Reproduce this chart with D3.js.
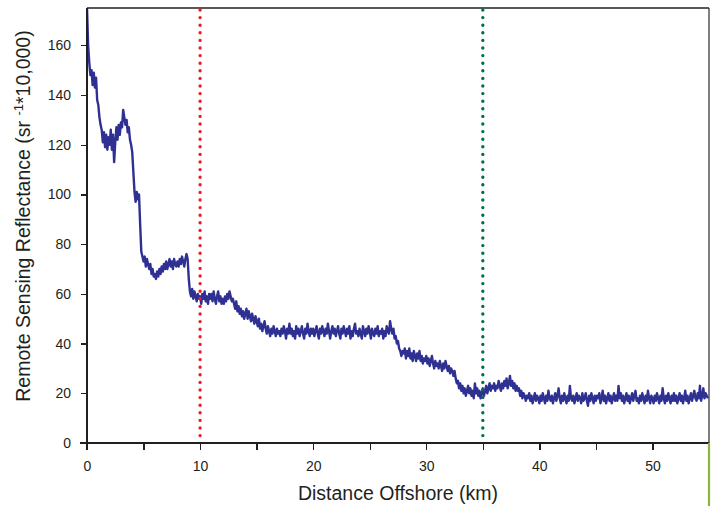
<!DOCTYPE html>
<html>
<head>
  <title>Remote Sensing Reflectance vs Distance Offshore</title>
  <script src="https://d3js.org/d3.v7.min.js"></script>
  <style>
    body { margin: 0; background: #fff; font-family: "Liberation Sans", Arial, sans-serif; }
    .axis path, .axis line { fill: none; stroke: #231f20; stroke-width: 1.3; shape-rendering: crispEdges; }
    .axis text { font-size: 14px; fill: #231f20; font-family: "Liberation Sans", Arial, sans-serif; }
    .axis-title { font-size: 19.5px; fill: #231f20; }
  </style>
</head>
<body>
  <div id="chart"></div>
  <script>
    // distance step of the reflectance samples (km)
    const distStep = 0.1;
    // Rrs (sr^-1 * 10,000), one value every 0.1 km starting at 0 km (one row = 1 km)
    const reflectance = [
      175, 160, 153, 148, 150, 144, 149, 143, 147, 138,
      136, 131, 128, 126, 121, 125, 119, 124, 118, 123,
      120, 126, 118, 124, 113, 121, 127, 122, 128, 124,
      129, 127, 134, 131, 128, 130, 125, 127, 122, 120,
      117, 109, 101, 97, 101, 98, 100, 88, 77, 75,
      73, 75, 71, 74, 72, 70, 72, 68, 70, 67,
      68, 66, 69, 67, 70, 68, 71, 69, 72, 70,
      73, 70, 72, 74, 71, 73, 70, 74, 72, 71,
      73, 71, 74, 72, 75, 73, 71, 74, 76, 74,
      66, 61, 59, 62, 58, 61, 59, 57, 60, 58,
      59, 56, 60, 58, 61, 57, 59, 56, 60, 58,
      60, 57, 61, 58, 56, 59, 61, 57, 59, 56,
      58, 56, 59, 57, 60, 58, 61, 59, 57, 58,
      56, 54, 57, 53, 55, 52, 54, 51, 53, 50,
      52, 54, 50, 53, 51, 49, 52, 50, 48, 51,
      49, 47, 50, 46, 48, 45, 47, 49, 46, 44,
      47, 45, 43, 46, 44, 47, 45, 43, 46, 44,
      45, 43, 46, 44, 47, 45, 42, 46, 44, 48,
      44, 46, 43, 45, 42, 47, 44, 46, 43, 45,
      47, 44, 42, 46, 44, 48, 45, 43, 46, 44,
      46, 43, 45, 47, 44, 42, 46, 44, 47, 45,
      43, 46, 44, 48, 45, 42, 45, 47, 44, 46,
      43, 45, 47, 44, 42, 46, 44, 47, 45, 43,
      46, 44, 47, 42, 45, 43, 46, 48, 44, 45,
      43, 46, 44, 42, 47, 45, 43, 46, 44, 47,
      45, 42, 46, 44, 43, 46, 44, 47, 43, 45,
      44, 46, 42, 45, 43, 47, 45, 44, 49, 46,
      44, 46, 42, 43, 40, 41, 38, 37, 35, 37,
      36, 38, 34, 37, 35, 38, 34, 36, 33, 37,
      35, 33, 36, 34, 37, 33, 35, 32, 34, 33,
      35, 32, 34, 31, 33, 35, 32, 30, 33, 31,
      32, 30, 33, 31, 29, 32, 30, 33, 31, 29,
      31, 28, 30, 29, 27, 29, 26, 24, 25, 22,
      24, 21, 23, 20, 22, 19, 21, 23, 20, 22,
      19, 21, 18, 24, 20, 22, 19, 21, 18, 20,
      22, 19, 21, 23, 20, 22, 24, 21, 23, 22,
      24, 21, 23, 22, 25, 23, 21, 24, 22, 25,
      23, 26, 22, 24, 27, 23, 25, 22, 24, 21,
      23, 21, 22, 19, 21, 18, 20, 19, 17, 19,
      18, 20, 17, 19, 16, 18, 20, 17, 19, 18,
      16, 19, 17, 20, 18, 16, 19, 17, 21, 18,
      17, 19, 16, 18, 20, 17, 19, 22, 18, 16,
      19, 17, 20, 18, 16, 19, 17, 23, 18, 17,
      19, 16, 18, 20, 17, 19, 18, 16, 20, 17,
      18, 20, 17, 15, 19, 17, 20, 18, 16, 19,
      17, 19, 18, 20, 16, 18, 21, 17, 19, 16,
      18, 20, 17, 19, 16, 18, 20, 17, 19, 17,
      23, 18, 20, 17, 19, 16, 18, 20, 17, 19,
      16, 18, 20, 17, 19, 21, 17, 18, 16, 19,
      17, 20, 18, 16, 19, 17, 21, 18, 16, 19,
      18, 16, 19, 17, 20, 18, 16, 19, 17, 22,
      18, 16, 19, 17, 20, 18, 16, 19, 17, 20,
      17, 19, 16, 18, 20, 17, 19, 16, 18, 21,
      17, 19, 16, 18, 20, 17, 19, 21, 18, 17,
      20, 18, 23, 17, 19, 22, 18, 20, 19, 18
    ];
    // reference distances marked with dotted lines (km)
    const markers = [
      { km: 10, color: "#ed1c24" },
      { km: 35, color: "#00704a" }
    ];
    const xTicks = [0, 5, 10, 15, 20, 25, 30, 35, 40, 45, 50, 55];
    const xLabels = [0, 10, 20, 30, 40, 50];
    const yTicks = [0, 20, 40, 60, 80, 100, 120, 140, 160];

    const W = 715, H = 506;
    const margin = { top: 8, right: 6, bottom: 63, left: 87 };
    const width = W - margin.left - margin.right;
    const height = H - margin.top - margin.bottom;

    const svg = d3.select("#chart").append("svg")
      .attr("width", W)
      .attr("height", H);

    const g = svg.append("g")
      .attr("transform", `translate(${margin.left},${margin.top})`);

    const x = d3.scaleLinear().domain([0, 55]).range([0, width]);
    const y = d3.scaleLinear().domain([0, 175]).range([height, 0]);

    g.append("defs").append("clipPath").attr("id", "clip")
      .append("rect").attr("width", width).attr("height", height);

    // frame top and right
    g.append("line").attr("x1", 0).attr("x2", width).attr("y1", 0).attr("y2", 0)
      .attr("stroke", "#231f20").attr("stroke-width", 1.3);
    g.append("line").attr("x1", width).attr("x2", width).attr("y1", 0).attr("y2", height)
      .attr("stroke", "#3a3a3a").attr("stroke-width", 1.3);

    // data line
    const line = d3.line()
      .x((d, i) => x(i * distStep))
      .y(d => y(d));

    g.append("path")
      .datum(reflectance)
      .attr("clip-path", "url(#clip)")
      .attr("fill", "none")
      .attr("stroke", "#2e3192")
      .attr("stroke-width", 2.4)
      .attr("stroke-linejoin", "round")
      .attr("d", line);

    // dotted marker lines
    g.selectAll(".marker")
      .data(markers)
      .join("line")
        .attr("class", "marker")
        .attr("x1", d => x(d.km)).attr("x2", d => x(d.km))
        .attr("y1", 2).attr("y2", height)
        .attr("stroke", d => d.color)
        .attr("stroke-width", 3.4)
        .attr("stroke-linecap", "round")
        .attr("stroke-dasharray", "0 7.6");

    // axes
    g.append("g")
      .attr("class", "x axis")
      .attr("transform", `translate(0,${height})`)
      .call(d3.axisBottom(x).tickValues(xTicks).tickSize(7).tickPadding(11)
        .tickFormat(d => xLabels.includes(d) ? d : ""))
      .call(a => a.select(".domain").attr("d", `M-7,0H${width}`));

    g.append("g")
      .attr("class", "y axis")
      .call(d3.axisLeft(y).tickValues(yTicks).tickSize(6).tickPadding(10))
      .call(a => a.select(".domain").attr("d", `M0,0V${height + 7}`));

    // green strip under right edge
    svg.append("line")
      .attr("x1", margin.left + width).attr("x2", margin.left + width)
      .attr("y1", margin.top + height).attr("y2", H)
      .attr("stroke", "#8db53c").attr("stroke-width", 2.2);

    // axis titles
    svg.append("text")
      .attr("class", "axis-title")
      .attr("x", margin.left + width / 2)
      .attr("y", 500)
      .attr("font-size", "20.5px")
      .attr("text-anchor", "middle")
      .text("Distance Offshore (km)");

    const yt = svg.append("text")
      .attr("class", "axis-title")
      .attr("transform", `translate(30,216) rotate(-90)`)
      .attr("text-anchor", "middle");
    yt.append("tspan").text("Remote Sensing Reflectance (sr ");
    yt.append("tspan").attr("baseline-shift", "super").attr("font-size", "13px").text("-1");
    yt.append("tspan").text("*10,000)");
  </script>
</body>
</html>
